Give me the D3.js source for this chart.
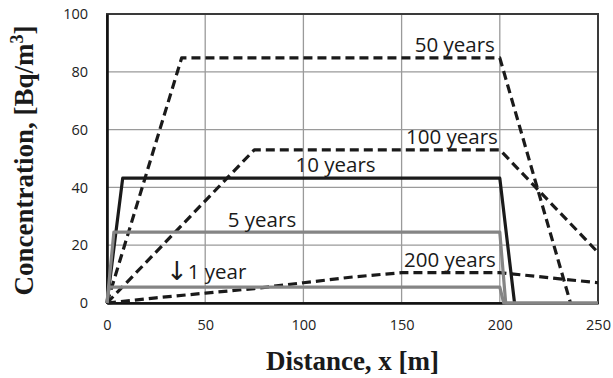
<!DOCTYPE html>
<html>
<head>
<meta charset="utf-8">
<script src="https://cdnjs.cloudflare.com/ajax/libs/d3/7.8.5/d3.min.js"></script>
<style>
  body { margin: 0; background: white; }
</style>
</head>
<body>
<svg id="chart"></svg>
<script>
// concentration profiles, [distance m, concentration Bq/m3]
const years1 = [[0, 0], [1, 5.5], [200, 5.5], [202, 0], [250, 0]];
const years5 = [[0, 0], [3.5, 24.5], [200, 24.5], [203, 0], [250, 0]];
const years10 = [[0, 0], [8, 43.2], [200, 43.2], [207.5, 0]];
const years50 = [[0, 0], [38, 84.8], [200, 84.8], [236, 0]];
const years100 = [[0, 0], [75, 53], [200, 53], [250, 17.5]];
const years200 = [[0, 0], [25, 1.8], [50, 3.4], [75, 5], [100, 7], [125, 9], [150, 10.5], [200, 10.5], [250, 7]];

const xTicks = [0, 50, 100, 150, 200, 250];
const yTicks = [0, 20, 40, 60, 80, 100];

// label text + where it sits (data units)
const labels = [
    {text: "50 years", x: 197.5, y: 87, anchor: "end"},
    {text: "100 years", x: 199, y: 55, anchor: "end"},
    {text: "10 years", x: 96, y: 45.3, anchor: "start"},
    {text: "5 years", x: 61.5, y: 26.3, anchor: "start"},
    {text: "1 year", x: 30, y: 8.3, anchor: "start", arrow: true},
    {text: "200 years", x: 198, y: 12.5, anchor: "end"}
];

var size = {width: 613, height: 378};
var margin = {left: 107, right: 15, top: 14, bottom: 75};

var svg = d3.select("#chart")
    .attr("width", size.width)
    .attr("height", size.height);

var x = d3.scaleLinear().domain([0, 250]).range([margin.left, size.width - margin.right]);
var y = d3.scaleLinear().domain([0, 100]).range([size.height - margin.bottom, margin.top]);

// gridlines
svg.append("g")
    .selectAll("line")
    .data(xTicks.slice(1, -1))
    .enter()
    .append("line")
    .attr("x1", d => x(d)).attr("x2", d => x(d))
    .attr("y1", y(0)).attr("y2", y(100))
    .attr("stroke", "#9a9a9a")
    .attr("stroke-width", 1.3);

svg.append("g")
    .selectAll("line")
    .data(yTicks.slice(1, -1))
    .enter()
    .append("line")
    .attr("x1", x(0)).attr("x2", x(250))
    .attr("y1", d => y(d)).attr("y2", d => y(d))
    .attr("stroke", "#9a9a9a")
    .attr("stroke-width", 1.3);

// plot frame
svg.append("rect")
    .attr("x", x(0)).attr("y", y(100))
    .attr("width", x(250) - x(0))
    .attr("height", y(0) - y(100))
    .attr("fill", "none")
    .attr("stroke", "#3a3a3a")
    .attr("stroke-width", 2);

// axes
var xAxis = svg.append("g")
    .attr("transform", "translate(0," + y(0) + ")")
    .call(d3.axisBottom(x).tickValues(xTicks).tickSize(0).tickPadding(17));
var yAxis = svg.append("g")
    .attr("transform", "translate(" + x(0) + ",0)")
    .call(d3.axisLeft(y).tickValues(yTicks).tickSize(0).tickPadding(19));

[xAxis, yAxis].forEach(a => {
    a.select(".domain").attr("stroke", "#111").attr("stroke-width", 2.6);
    a.selectAll("text")
        .attr("font-family", "'Open Sans', sans-serif")
        .attr("font-size", "14.5px")
        .attr("fill", "#222");
});

var line = d3.line().x(d => x(d[0])).y(d => y(d[1]));

var series = [
    {data: years200, color: "#1a1a1a", dash: "9,5"},
    {data: years100, color: "#1a1a1a", dash: "9,5"},
    {data: years50, color: "#1a1a1a", dash: "9,5"},
    {data: years10, color: "#1a1a1a", dash: null},
    {data: years5, color: "#858585", dash: null},
    {data: years1, color: "#858585", dash: null}
];

svg.append("g")
    .selectAll("path")
    .data(series)
    .enter()
    .append("path")
    .attr("d", d => line(d.data))
    .attr("fill", "none")
    .attr("stroke", d => d.color)
    .attr("stroke-width", 3.2)
    .attr("stroke-dasharray", d => d.dash)
    .attr("stroke-linejoin", "round");

var labelText = svg.append("g")
    .selectAll("text")
    .data(labels)
    .enter()
    .append("text")
    .attr("x", d => x(d.x))
    .attr("y", d => y(d.y))
    .attr("text-anchor", d => d.anchor)
    .attr("font-family", "'Open Sans', sans-serif")
    .attr("font-size", "20.5px")
    .attr("fill", "#1a1a1a");

// arrow glyph is small in Open Sans, so bump it
labelText.filter(d => d.arrow)
    .append("tspan")
    .attr("font-family", "'DejaVu Sans', sans-serif")
    .attr("font-size", "26px")
    .attr("dy", 1)
    .text("\u2193");
labelText.append("tspan")
    .attr("dy", d => d.arrow ? -1 : null)
    .text(d => d.text);

// axis titles
svg.append("text")
    .attr("x", (x(0) + x(250)) / 2)
    .attr("y", 370)
    .attr("text-anchor", "middle")
    .attr("font-family", "'Liberation Serif', 'Times New Roman', serif")
    .attr("font-weight", "bold")
    .attr("font-size", "27px")
    .attr("fill", "#1a1a1a")
    .text("Distance, x [m]");

var yTitle = svg.append("text")
    .attr("transform", "translate(33," + (y(50) + 2) + ") rotate(-90)")
    .attr("text-anchor", "middle")
    .attr("font-family", "'Liberation Serif', 'Times New Roman', serif")
    .attr("font-weight", "bold")
    .attr("font-size", "27px")
    .attr("fill", "#1a1a1a");
yTitle.append("tspan").text("Concentration, [Bq/m");
yTitle.append("tspan").attr("dy", -10).attr("font-size", "18px").text("3");
yTitle.append("tspan").attr("dy", 10).text("]");
</script>
</body>
</html>
